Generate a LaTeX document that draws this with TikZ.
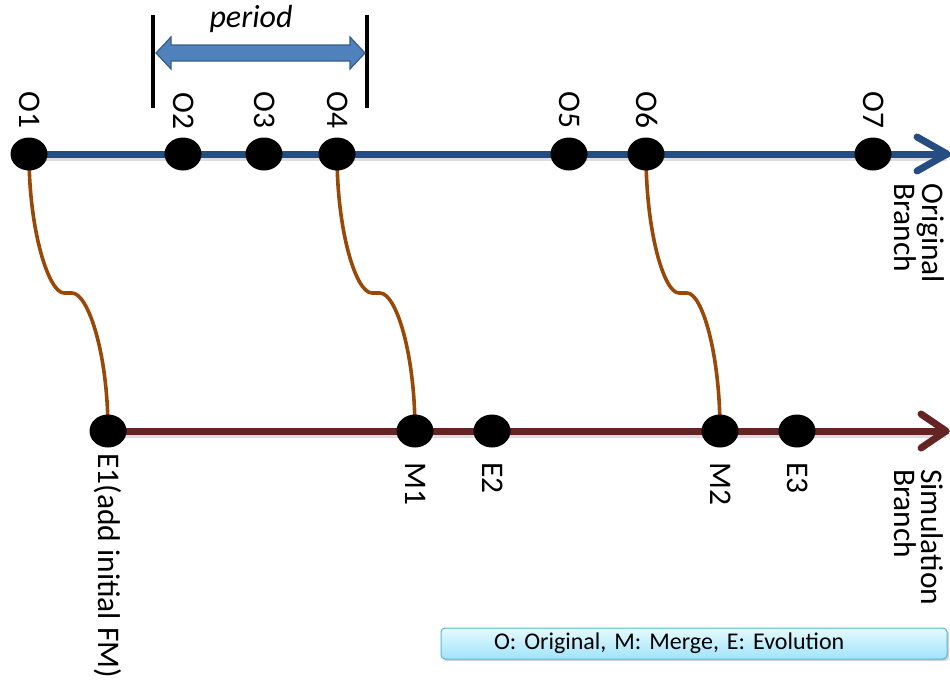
\documentclass[tikz,border=0pt]{standalone}
\usepackage{fontspec}
\setmainfont{Carlito}
\usetikzlibrary{shapes.geometric,shadows}
\definecolor{obranch}{RGB}{37,77,129}
\definecolor{sbranch}{RGB}{99,36,35}
\definecolor{linkc}{RGB}{152,72,7}
\definecolor{perfill}{RGB}{79,129,189}
\definecolor{perdraw}{RGB}{56,93,138}
\definecolor{legtop}{RGB}{230,249,255}
\definecolor{legbot}{RGB}{160,228,250}
\definecolor{legdraw}{RGB}{90,180,215}
\pgfdeclarelayer{bg}
\pgfsetlayers{bg,main}
\begin{document}
\begin{tikzpicture}[x=1pt,y=-1pt,
  dot/.style={ellipse,fill=black,minimum width=37pt,minimum height=33pt,inner sep=0pt},
  lbl/.style={font=\fontsize{31.5}{27}\selectfont,rotate=-90,inner sep=0pt,text height=20pt,text depth=0pt},
  branchlbl/.style={font=\fontsize{31.5}{27}\selectfont,rotate=-90,inner sep=0pt,align=left,anchor=north west},
  mainline/.style={line width=7pt,line cap=round,line join=miter},
  headline/.style={line width=7pt,line cap=round,line join=round},
  shadowline/.style={line width=7pt,black!22,opacity=0.6},
  linkline/.style={line width=3.6pt,linkc},
  bar/.style={line width=4pt,black},
  legend/.style={rounded corners=4pt,draw=legdraw,line width=1pt,top color=legtop,bottom color=legbot,
    font=\fontsize{24}{28}\selectfont,minimum height=31pt,text width=400pt,inner xsep=53pt,align=left,
    drop shadow={shadow xshift=2pt,shadow yshift=-2pt,opacity=0.35}}
]
\useasboundingbox (0,0) rectangle (950,686);

% dots of the original branch
\node[dot] (O1) at (29,154) {};
\node[dot] (O2) at (183,154) {};
\node[dot] (O3) at (264,154) {};
\node[dot] (O4) at (337,154) {};
\node[dot] (O5) at (569,154) {};
\node[dot] (O6) at (646,154) {};
\node[dot] (O7) at (873,154) {};
\coordinate (otip) at (947,154);
\coordinate (ow1) at (917,137);
\coordinate (ow2) at (917,171);

% dots of the simulation branch
\node[dot] (E1) at (108,431) {};
\node[dot] (M1) at (415,431) {};
\node[dot] (E2) at (492,431) {};
\node[dot] (M2) at (720,431) {};
\node[dot] (E3) at (797,431) {};
\coordinate (stip) at (946,431);
\coordinate (sw1) at (921,414);
\coordinate (sw2) at (921,448);

% kink coordinates of the connectors
\coordinate (k1a) at (64,293); \coordinate (k1b) at (72,293);
\coordinate (k2a) at (372,293); \coordinate (k2b) at (380,293);
\coordinate (k3a) at (679,293); \coordinate (k3b) at (687,293);

\begin{pgfonlayer}{bg}
  % shadows
  \draw[shadowline] ([yshift=-3pt]O1.center) -- ([yshift=-3pt]otip);
  \draw[shadowline] ([yshift=-3pt]E1.center) -- ([yshift=-3pt]stip);
  % branches
  \draw[mainline,obranch] (O1.center) -- (otip);
  \draw[headline,obranch] (ow1) -- (otip) -- (ow2);
  \draw[mainline,sbranch] (E1.center) -- (stip);
  \draw[headline,sbranch] (sw1) -- (stip) -- (sw2);
  % connectors
  \draw[linkline] (O1.center) .. controls (29,232) and (49,293) .. (k1a) -- (k1b)
     .. controls (88,293) and (108,353) .. (E1.center);
  \draw[linkline] (O4.center) .. controls (337,232) and (356,293) .. (k2a) -- (k2b)
     .. controls (396,293) and (415,353) .. (M1.center);
  \draw[linkline] (O6.center) .. controls (646,232) and (664,293) .. (k3a) -- (k3b)
     .. controls (702,293) and (720,353) .. (M2.center);
\end{pgfonlayer}

% labels of the original branch
\node[lbl,anchor=east] (lO1) at (29,129) {O1};
\node[lbl,anchor=east] (lO2) at (183,130) {O2};
\node[lbl,anchor=east] (lO3) at (264,129) {O3};
\node[lbl,anchor=east] (lO4) at (337,129) {O4};
\node[lbl,anchor=east] (lO5) at (569,129) {O5};
\node[lbl,anchor=east] (lO6) at (646,129) {O6};
\node[lbl,anchor=east] (lO7) at (873,129) {O7};

% labels of the simulation branch
\node[lbl,anchor=west] (lE1) at (108,453) {E1(add initial FM)};
\node[lbl,anchor=west] (lM1) at (415,462) {M1};
\node[lbl,anchor=west] (lE2) at (492,462) {E2};
\node[lbl,anchor=west] (lM2) at (720,462) {M2};
\node[lbl,anchor=west] (lE3) at (797,462) {E3};

% branch names
\node[branchlbl] (orig) at (945,183) {Original\\Branch};
\node[branchlbl] (simu) at (944,469) {Simulation\\Branch};

% period marker
\draw[bar] (153,15) -- (153,108);
\draw[bar] (367,15) -- (367,108);
\filldraw[fill=perfill,draw=perdraw,line width=1.2pt,line join=miter]
  (156,53) -- (171,37) -- (171,45) -- (350,45) -- (350,37) -- (365,53)
  -- (350,69) -- (350,61) -- (171,61) -- (171,69) -- cycle;
\node[font=\fontsize{32}{36}\selectfont\itshape,anchor=base,inner sep=0pt] (per) at (251,27) {period};

% legend
\node[legend] (leg) at (694,643.5) {O: Original, M: Merge, E: Evolution};
\end{tikzpicture}
\end{document}
